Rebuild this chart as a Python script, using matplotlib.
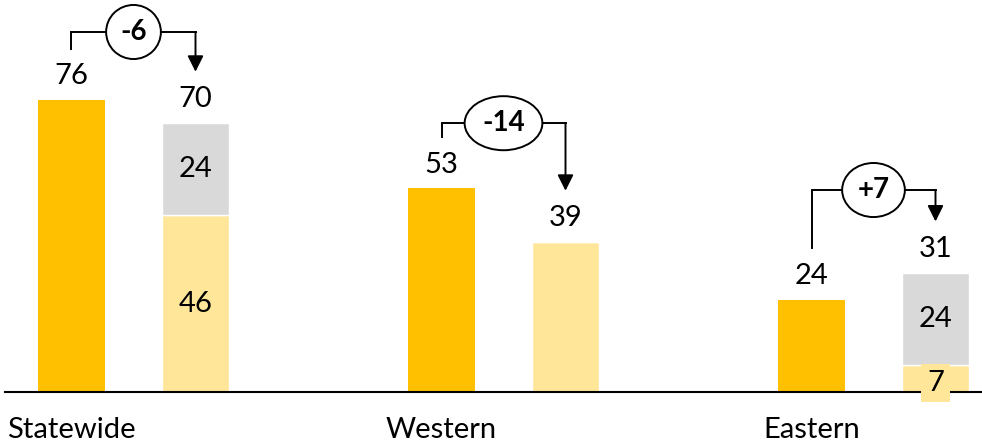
import numpy as np
import matplotlib
matplotlib.use("Agg")
import matplotlib.pyplot as plt

plt.rcParams['font.family'] = ['Lato', 'DejaVu Sans']

# data
regions = ['Statewide', 'Western', 'Eastern']
before = [76, 53, 24]
after_base = [46, 39, 7]      # light yellow part
after_top = [24, 0, 24]       # grey part
deltas = ['-6', '-14', '+7']
bracket_levels = [93.75, 70.0, 52.6]

orange = '#FFC000'
light = '#FFE699'
grey = '#D9D9D9'

fig = plt.figure(figsize=(9.82, 4.44), dpi=100)
ax = fig.add_axes([0, 0, 1, 1])
ax.set_xlim(-71.5 / 370, (982 - 71.5) / 370)
ax.set_ylim(-52 / 3.84, (444 - 52) / 3.84)
ax.axis('off')

x = np.arange(len(regions))
off = 124 / 370
w = 67 / 370
after_total = [a + b for a, b in zip(after_base, after_top)]

ax.bar(x, before, w, color=orange, zorder=2)
ax.bar(x + off, after_base, w, color=light, edgecolor='white', linewidth=1, zorder=2)
ax.bar(x + off, after_top, w, bottom=after_base, color=grey, edgecolor='white',
       linewidth=1, zorder=2)
ax.axhline(0, xmin=5 / 982, xmax=1, color='black', lw=1.5, zorder=3)

fs = 21
for i in range(len(regions)):
    ax.text(x[i], before[i] + 6.2, str(before[i]), ha='center', va='center', fontsize=fs)
    ax.text(x[i] + off, after_total[i] + 6.2, str(after_total[i]), ha='center',
            va='center', fontsize=fs)
    ax.text(x[i], -10, regions[i], ha='center', va='center', fontsize=fs)

    # segment labels
    if after_top[i] > 0:
        ax.text(x[i] + off, after_base[i] + after_top[i] / 2, str(after_top[i]),
                ha='center', va='center', fontsize=fs, zorder=4)
        if after_base[i] > 15:
            ax.text(x[i] + off, after_base[i] / 2, str(after_base[i]),
                    ha='center', va='center', fontsize=fs, zorder=4)
        else:
            ax.text(x[i] + off, after_base[i] / 2 - 1.2, str(after_base[i]),
                    ha='center', va='center', fontsize=fs, zorder=4,
                    bbox=dict(boxstyle='square,pad=0.2', fc=light, ec='none'))

    # bracket with delta
    lvl = bracket_levels[i]
    x0, x1 = x[i], x[i] + off
    ax.plot([x0, x0, x1], [before[i] + 13.4, lvl, lvl], color='black', lw=1.4,
            solid_joinstyle='miter', zorder=3)
    ax.annotate('', xy=(x1, after_total[i] + 13.4), xytext=(x1, lvl),
                arrowprops=dict(arrowstyle='-|>', mutation_scale=24, color='black',
                                lw=1.4, shrinkA=0, shrinkB=0))
    ax.text((x0 + x1) / 2, lvl, deltas[i], ha='center', va='center', fontsize=20,
            fontweight='bold', zorder=5,
            bbox=dict(boxstyle='ellipse,pad=0.22', fc='white', ec='black', lw=1.4))

fig.savefig('out.png', dpi=100)
